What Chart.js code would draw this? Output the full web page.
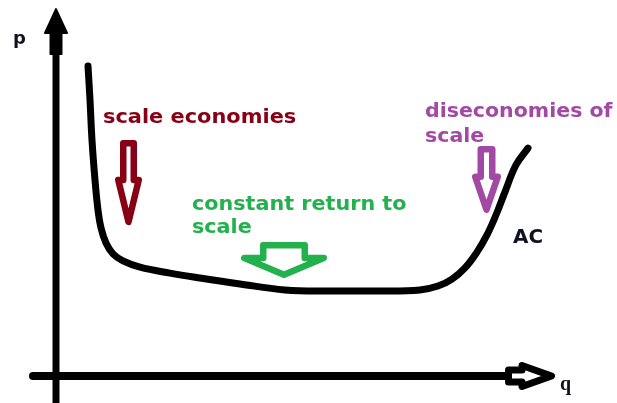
<!DOCTYPE html>
<html>
<head>
<meta charset="utf-8">
<script src="https://cdn.jsdelivr.net/npm/chart.js@4.4.0/dist/chart.umd.min.js"></script>
<style>
  body { margin: 0; background: #fff; }
  #ac_chart { display: block; }
</style>
</head>
<body>
<canvas id="ac_chart" width="617" height="403"></canvas>
<script>
// AC curve, q on x, p on y (0..100 units)
var acQ = [6.4, 6.8, 7.2, 7.8, 8.4, 9.0, 10.0, 11.4, 13.4, 16.8, 22.8, 28.8, 36.8, 45.8, 54.8, 64.8, 72.8, 76.4, 79.2, 81.8, 84.2, 86.2, 88.0, 89.8, 92.0, 94.4];
var acP = [88.6, 78.9, 67.4, 56.0, 47.4, 42.3, 38.0, 34.9, 32.9, 31.1, 29.4, 28.0, 26.3, 24.6, 24.3, 24.3, 24.6, 25.7, 27.7, 30.9, 35.4, 40.3, 46.0, 52.6, 60.3, 65.1];

// axes
var pAxisP = [-7.7, 91.7];
var pArrowP = [91.7, 98.0, 105.1];   // block bottom, head base, tip
var qAxisQ = [-4.6, 90.4];
var qArrowQ = [89.8, 93.2, 99.8];    // start, neck, tip

// annotation arrows (center q, top p, neck p, tip p)
var noteArrowQ = [14.5, 45.6, 86.1];
var noteArrowTop = [67.4, 38.3, 65.7];
var noteArrowNeck = [56.0, 33.7, 56.9];
var noteArrowTip = [43.1, 28.0, 46.6];
var noteArrowColor = ['#880015', '#22b14c', '#a349a4'];
var noteArrowShaft = [17, 48, 18];
var noteArrowHead = [27, 86, 29];

// texts
var labelText = ['p', 'q', 'AC', 'scale economies', 'constant return to', 'scale', 'diseconomies of', 'scale'];
var labelQ = [-8.6, 100.8, 91.4, 9.4, 27.2, 27.2, 73.8, 73.8];
var labelP = [94.9, -4.0, 38.0, 72.3, 47.4, 40.9, 74.0, 66.9];
var labelColor = ['#111122', '#111122', '#111122', '#880015', '#22b14c', '#22b14c', '#a349a4', '#a349a4'];
var labelFont = [
  'bold 18px "DejaVu Sans"', 'bold 20px "Liberation Serif"', 'bold 19px "DejaVu Sans"',
  'bold 19px "DejaVu Sans"', 'bold 19px "DejaVu Sans"', 'bold 19px "DejaVu Sans"',
  'bold 19px "DejaVu Sans"', 'bold 19px "DejaVu Sans"'
];
var labelStretch = [1.0, 1.0, 1.05, 1.1, 1.09, 1.09, 1.08, 1.08];

function toPoints(xs, ys) {
  return xs.map(function(v, i) { return { x: v, y: ys[i] }; });
}

function blockArrow(ctx, x0, y0, x1, y1, neck, sw, hw, lw, color, fill) {
  var L = Math.hypot(x1 - x0, y1 - y0);
  var a = Math.atan2(y1 - y0, x1 - x0);
  var i = lw / 2, s = sw / 2 - lw / 2, h = hw / 2 - lw / 2;
  ctx.save();
  ctx.translate(x0, y0);
  ctx.rotate(a);
  ctx.beginPath();
  ctx.moveTo(i, -s);
  ctx.lineTo(neck, -s);
  ctx.lineTo(neck, -h);
  ctx.lineTo(L - i, 0);
  ctx.lineTo(neck, h);
  ctx.lineTo(neck, s);
  ctx.lineTo(i, s);
  ctx.closePath();
  ctx.fillStyle = fill;
  ctx.fill();
  ctx.lineWidth = lw;
  ctx.lineJoin = 'round';
  ctx.strokeStyle = color;
  ctx.stroke();
  ctx.restore();
}

var marksPlugin = {
  id: 'marks',
  afterDatasetsDraw: function(chart) {
    var ctx = chart.ctx;
    var x = chart.scales.x, y = chart.scales.y;

    // p axis arrow head (solid)
    var ax = x.getPixelForValue(0);
    var b = y.getPixelForValue(pArrowP[0]);
    var hb = y.getPixelForValue(pArrowP[1]);
    var t = y.getPixelForValue(pArrowP[2]);
    blockArrow(ctx, ax, b, ax, t, b - hb, 13, 24, 2, '#000', '#000');

    // q axis arrow head (hollow)
    var ay = y.getPixelForValue(0);
    var s0 = x.getPixelForValue(qArrowQ[0]);
    var n0 = x.getPixelForValue(qArrowQ[1]);
    var t0 = x.getPixelForValue(qArrowQ[2]);
    blockArrow(ctx, s0, ay, t0, ay, n0 - s0, 19, 28, 7, '#000', '#fff');

    // annotation arrows
    noteArrowQ.forEach(function(q, k) {
      var cx = x.getPixelForValue(q);
      var top = y.getPixelForValue(noteArrowTop[k]);
      var nk = y.getPixelForValue(noteArrowNeck[k]);
      var tp = y.getPixelForValue(noteArrowTip[k]);
      blockArrow(ctx, cx, top, cx, tp, nk - top, noteArrowShaft[k], noteArrowHead[k], 6.5, noteArrowColor[k], '#fff');
    });

    // texts
    labelText.forEach(function(txt, k) {
      ctx.save();
      ctx.translate(x.getPixelForValue(labelQ[k]), y.getPixelForValue(labelP[k]));
      ctx.scale(labelStretch[k], 1);
      ctx.font = labelFont[k];
      ctx.fillStyle = labelColor[k];
      ctx.textBaseline = 'alphabetic';
      ctx.textAlign = 'left';
      ctx.fillText(txt, 0, 0);
      ctx.restore();
    });
  }
};

var ctx = document.getElementById('ac_chart').getContext('2d');
var acChart = new Chart(ctx, {
  type: 'scatter',
  data: {
    datasets: [{
      label: 'AC',
      data: toPoints(acQ, acP),
      showLine: true,
      borderColor: '#000',
      borderWidth: 7,
      borderCapStyle: 'round',
      tension: 0.4,
      pointRadius: 0,
      clip: false
    }, {
      label: 'p axis',
      data: toPoints([0, 0], pAxisP),
      showLine: true,
      borderColor: '#000',
      borderWidth: 7,
      pointRadius: 0,
      clip: false
    }, {
      label: 'q axis',
      data: toPoints(qAxisQ, [0, 0]),
      showLine: true,
      borderColor: '#000',
      borderWidth: 8,
      borderCapStyle: 'round',
      pointRadius: 0,
      clip: false
    }]
  },
  options: {
    responsive: false,
    animation: false,
    layout: { padding: { left: 56, right: 61, top: 26, bottom: 27 } },
    scales: {
      x: { type: 'linear', min: 0, max: 100, display: false },
      y: { type: 'linear', min: 0, max: 100, display: false }
    },
    plugins: {
      legend: { display: false },
      tooltip: { enabled: false }
    }
  },
  plugins: [marksPlugin]
});
</script>
</body>
</html>
